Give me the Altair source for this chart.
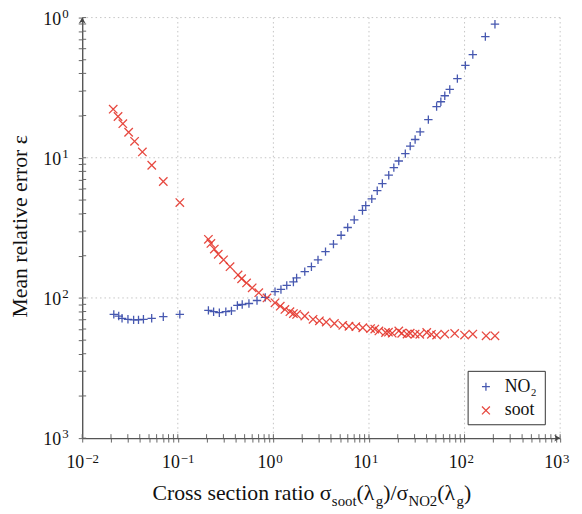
import altair as alt
import pandas as pd

FONT = "Liberation Serif"
BLUE = "#3346a8"
RED = "#e5362c"

# ---- data ----
no2_x = [0.0214, 0.0241, 0.0261, 0.0301, 0.0345, 0.0388, 0.0437, 0.0533, 0.0705, 0.105,
         0.209, 0.237, 0.272, 0.318, 0.364, 0.420, 0.472, 0.555, 0.674, 0.822,
         1.04, 1.20, 1.38, 1.62, 1.75, 2.13, 2.50, 2.93, 3.51, 4.25, 5.11, 5.99, 7.01, 8.55, 9.25, 10.7, 12.2, 13.8,
         16.1, 18.2, 20.5, 24.0, 27.0, 30.4, 34.3, 41.8, 51.0, 56.5, 62.1, 70.0, 84.1, 102, 122, 165, 208]
no2_y = [0.00763, 0.00743, 0.00716, 0.00704, 0.00697, 0.00697, 0.00704, 0.00716, 0.00735, 0.00763,
         0.00815, 0.00798, 0.00785, 0.00798, 0.00809, 0.00884, 0.00898, 0.00913, 0.00959, 0.0101,
         0.0111, 0.0115, 0.0123, 0.0130, 0.0139, 0.0154, 0.0167, 0.0187, 0.0214, 0.0242, 0.0280, 0.0318, 0.0361, 0.0421, 0.0456, 0.0509, 0.0582, 0.0655,
         0.0751, 0.0850, 0.0948, 0.107, 0.121, 0.135, 0.153, 0.187, 0.232, 0.251, 0.277, 0.307, 0.367, 0.456, 0.545, 0.731, 0.897]

soot_x = [0.0211, 0.0237, 0.0266, 0.0306, 0.0353, 0.0426, 0.0534, 0.0705, 0.105,
          0.209, 0.222, 0.241, 0.265, 0.301, 0.352, 0.427, 0.465, 0.524, 0.600, 0.703, 0.857,
          1.04, 1.18, 1.32, 1.49, 1.62, 1.75, 2.13, 2.60, 3.03, 3.57, 4.35, 5.32, 6.18, 7.29, 8.61,
          10.4, 11.5, 12.7, 14.9, 16.0, 17.5, 20.5, 22.0, 25.0, 27.0, 30.4, 34.0, 40.2, 45.0, 51.0, 62.1, 78.8, 100, 122, 168, 208]
soot_y = [0.222, 0.197, 0.175, 0.152, 0.131, 0.110, 0.0884, 0.0677, 0.0479,
          0.0262, 0.0245, 0.0223, 0.0205, 0.0187, 0.0167, 0.0146, 0.0137, 0.0128, 0.0118, 0.0109, 0.0100,
          0.00923, 0.00874, 0.00828, 0.00798, 0.00773, 0.00763, 0.00743, 0.00704, 0.00687, 0.00673, 0.00657, 0.00638, 0.00628, 0.00625, 0.00613,
          0.00605, 0.00600, 0.00582, 0.00567, 0.00570, 0.00561, 0.00582, 0.00560, 0.00552, 0.00560, 0.00552, 0.00550, 0.00567, 0.00550, 0.00543, 0.00552, 0.00558, 0.00543, 0.00552, 0.00537, 0.00537]

series_names = ["NO\u2082", "soot"]

x_major = [0.01, 0.1, 1, 10, 100, 1000]
x_sup = ["\u22122", "\u22121", "0", "1", "2", "3"]
y_major = [1, 0.1, 0.01, 0.001]
y_sup = ["0", "1", "2", "3"]

x_ticks = [m * 10.0 ** e for e in range(-2, 3) for m in range(1, 10)] + [1000]
y_ticks = [m * 10.0 ** e for e in range(-3, 0) for m in range(1, 10)] + [1]

df = pd.concat([
    pd.DataFrame({"x": no2_x, "y": no2_y, "series": series_names[0]}),
    pd.DataFrame({"x": soot_x, "y": soot_y, "series": series_names[1]}),
], ignore_index=True)

W, H = 483, 425
xs = alt.Scale(type="log", domain=[0.01, 1000], nice=False)
ys = alt.Scale(type="log", domain=[0.001, 1], nice=False)
ax = alt.Axis(values=x_ticks, labels=False, title=None, grid=False, tickSize=4,
              tickColor="#666", domainColor="#555", domainWidth=1.4)
ay = alt.Axis(values=y_ticks, labels=False, title=None, grid=False, tickSize=4,
              tickColor="#666", domainColor="#555", domainWidth=1.4)

one = pd.DataFrame({"a": [0]})

PLUS = "M-1,0L1,0M0,-1L0,1"
CROSS = "M-1,-1L1,1M-1,1L1,-1"

# grid
grid_x = alt.Chart(pd.DataFrame({"x": x_major[1:]})).mark_rule(
    color="#c4c4c4", strokeDash=[1.5, 3], strokeWidth=1).encode(
    x=alt.X("x:Q", scale=xs, axis=ax))
grid_y = alt.Chart(pd.DataFrame({"y": y_major[:3]})).mark_rule(
    color="#c4c4c4", strokeDash=[1.5, 3], strokeWidth=1).encode(
    y=alt.Y("y:Q", scale=ys, axis=ay))

# legend box
legbox = alt.Chart(one).mark_rect(fill="white", stroke="#333", strokeWidth=1).encode(
    x=alt.value(390), x2=alt.value(468), y=alt.value(357.5), y2=alt.value(411.5))

leg = alt.Legend(title=None, orient="none", legendX=399, legendY=364, labelFont=FONT,
                 labelFontSize=18, labelColor="#111", labelOffset=10, rowPadding=6,
                 symbolSize=64, symbolStrokeWidth=1.3, padding=0)

points = alt.Chart(df).mark_point(filled=False, size=72, strokeWidth=1.3, opacity=0.9).encode(
    x=alt.X("x:Q", scale=xs, axis=ax),
    y=alt.Y("y:Q", scale=ys, axis=ay),
    color=alt.Color("series:N", scale=alt.Scale(domain=series_names, range=[BLUE, RED]), legend=leg),
    shape=alt.Shape("series:N", scale=alt.Scale(domain=series_names, range=[PLUS, CROSS]), legend=leg),
)

# inward ticks
tick_x = alt.Chart(pd.DataFrame({"x": x_ticks})).mark_rule(color="#666", strokeWidth=1).encode(
    x=alt.X("x:Q", scale=xs, axis=ax), y=alt.value(H - 4), y2=alt.value(H))
tick_y = alt.Chart(pd.DataFrame({"y": y_ticks})).mark_rule(color="#666", strokeWidth=1).encode(
    y=alt.Y("y:Q", scale=ys, axis=ay), x=alt.value(0), x2=alt.value(4))

# tick labels
xl = pd.DataFrame({"x": x_major, "sup": x_sup})
xlab10 = alt.Chart(xl).mark_text(font=FONT, fontSize=18, align="right", baseline="alphabetic",
                                 dx=2, color="#111").encode(
    x=alt.X("x:Q", scale=xs, axis=ax), y=alt.value(H + 30), text=alt.value("10"))
xlabsup = alt.Chart(xl).mark_text(font=FONT, fontSize=13, align="left", baseline="alphabetic",
                                  dx=3, color="#111").encode(
    x=alt.X("x:Q", scale=xs, axis=ax), y=alt.value(H + 25), text="sup:N")

yl = pd.DataFrame({"y": y_major, "sup": y_sup})
ylab10 = alt.Chart(yl).mark_text(font=FONT, fontSize=18, align="right", baseline="alphabetic",
                                 dy=7, color="#111").encode(
    y=alt.Y("y:Q", scale=ys, axis=ay), x=alt.value(-21.3), text=alt.value("10"))
ylabsup = alt.Chart(yl).mark_text(font=FONT, fontSize=13, align="left", baseline="alphabetic",
                                  dy=0, color="#111").encode(
    y=alt.Y("y:Q", scale=ys, axis=ay), x=alt.value(-20.3), text="sup:N")

# axis titles
def txt(s, x, y, size, **kw):
    return alt.Chart(one).mark_text(font=FONT, fontSize=size, color="#111", **kw).encode(
        x=alt.value(x), y=alt.value(y), text=alt.value(s))

MAINY, SUBY = 488, 493.5
title_parts = [
    ("Cross section ratio \u03c3", 71, MAINY, 22),
    ("soot", 252.3, SUBY, 15),
    ("(\u03bb", 277.3, MAINY, 22),
    ("g", 296.7, SUBY, 15),
    (")/\u03c3", 304.2, MAINY, 22),
    ("NO2", 329.7, SUBY, 15),
    ("(\u03bb", 358.9, MAINY, 22),
    ("g", 378.3, SUBY, 15),
    (")", 385.8, MAINY, 22),
]
title_layers = [txt(s, x, y, sz, align="left", baseline="alphabetic") for s, x, y, sz in title_parts]
ytitle = txt("Mean relative error \u03b5", -63, 211, 22, align="center", baseline="middle", angle=270)

# arrowheads
ARROW = "M0,-1L1,0.7L0,0.2L-1,0.7Z"
arrow_y = alt.Chart(one).mark_point(shape=ARROW, filled=True, size=49, color="#444", opacity=1).encode(
    x=alt.value(0), y=alt.value(3.5))
arrow_x = alt.Chart(one).mark_point(shape=ARROW, filled=True, size=49, color="#444", opacity=1, angle=90).encode(
    x=alt.value(W - 3.5), y=alt.value(H))

chart = alt.layer(
    grid_x, grid_y, legbox, points, tick_x, tick_y,
    xlab10, xlabsup, ylab10, ylabsup, ytitle, *title_layers, arrow_y, arrow_x
).properties(
    width=W, height=H,
    autosize=alt.AutoSizeParams(type="none"),
    padding={"left": 75, "top": 7, "right": 14, "bottom": 74},
).configure_view(stroke=None)

chart.save("out.html", embed_options={"renderer": "svg", "actions": False})
